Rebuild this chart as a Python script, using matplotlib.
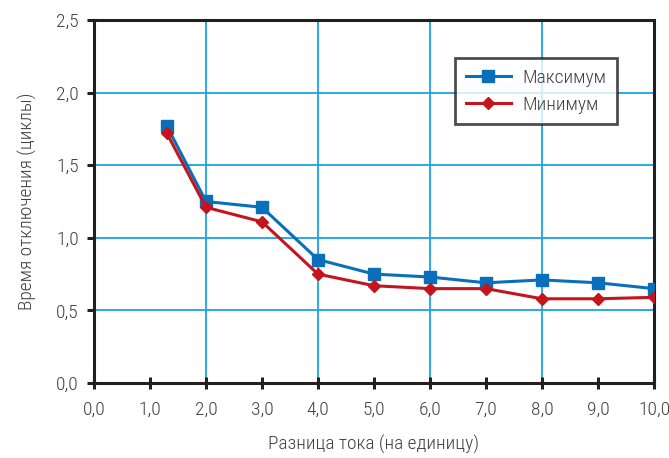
import matplotlib
matplotlib.use('Agg')
import matplotlib.pyplot as plt
from matplotlib.ticker import MultipleLocator, FuncFormatter

# values
x_max = [1.3, 2, 3, 4, 5, 6, 7, 8, 9, 10]
y_max = [1.77, 1.25, 1.21, 0.85, 0.75, 0.73, 0.69, 0.71, 0.69, 0.65]
x_min = [1.3, 2, 3, 4, 5, 6, 7, 8, 9, 10]
y_min = [1.72, 1.21, 1.11, 0.75, 0.67, 0.65, 0.65, 0.58, 0.58, 0.59]

label_max = 'Максимум'
label_min = 'Минимум'
x_title = 'Разница тока (на единицу)'
y_title = 'Время отключения (циклы)'

plt.rcParams['font.family'] = ['Roboto Condensed', 'PT Sans Narrow', 'DejaVu Sans']
plt.rcParams['font.weight'] = 'light'
plt.rcParams['axes.labelweight'] = 'light'
text_col = '#404040'

fig = plt.figure(figsize=(6.69, 4.58), dpi=100)
ax = fig.add_axes([94 / 669, 1 - 383 / 458, 560 / 669, 363 / 458])

blue = '#0a6fba'
red = '#c4151f'
ax.plot(x_max, y_max, color=blue, lw=2.2, marker='s', ms=8, label=label_max, zorder=3)
ax.plot(x_min, y_min, color=red, lw=2.2, marker='D', ms=6, label=label_min, zorder=4)

ax.set_xlim(0, 10)
ax.set_ylim(0, 2.5)
ax.xaxis.set_major_locator(MultipleLocator(1))
ax.yaxis.set_major_locator(MultipleLocator(0.5))
fmt = FuncFormatter(lambda v, p: ('%.1f' % v).replace('.', ','))
ax.xaxis.set_major_formatter(fmt)
ax.yaxis.set_major_formatter(fmt)

# grid: vertical every 2, horizontal every 0.5
for gx in [2, 4, 6, 8]:
    ax.axvline(gx, color='#18a4e0', lw=1.3, zorder=1)
for gy in [0.5, 1.0, 1.5, 2.0]:
    ax.axhline(gy, color='#18a4e0', lw=1.3, zorder=1)

for s in ax.spines.values():
    s.set_color('#231f20')
    s.set_linewidth(2.2)
ax.tick_params(axis='x', direction='inout', length=9, width=2.2, color='#231f20',
               labelsize=14, labelcolor=text_col, pad=8)
ax.tick_params(axis='y', direction='out', length=5, width=2.2, color='#231f20',
               labelsize=14, labelcolor=text_col, pad=6)

ax.set_xlabel(x_title, fontsize=14, color=text_col, labelpad=12, fontweight='light')
ax.set_ylabel(y_title, fontsize=14, color=text_col, labelpad=14, fontweight='light')

leg = ax.legend(loc='upper left', bbox_to_anchor=(0.645, 0.895), fontsize=14,
                frameon=True, fancybox=False, handlelength=2.3, borderpad=0.55,
                labelspacing=0.45, handletextpad=0.6, borderaxespad=0,
                prop={'weight': 'light', 'size': 14})
leg.get_frame().set_edgecolor('#231f20')
leg.get_frame().set_linewidth(2.0)
for t in leg.get_texts():
    t.set_color(text_col)

fig.savefig('out.png', dpi=100)
plt.close()
